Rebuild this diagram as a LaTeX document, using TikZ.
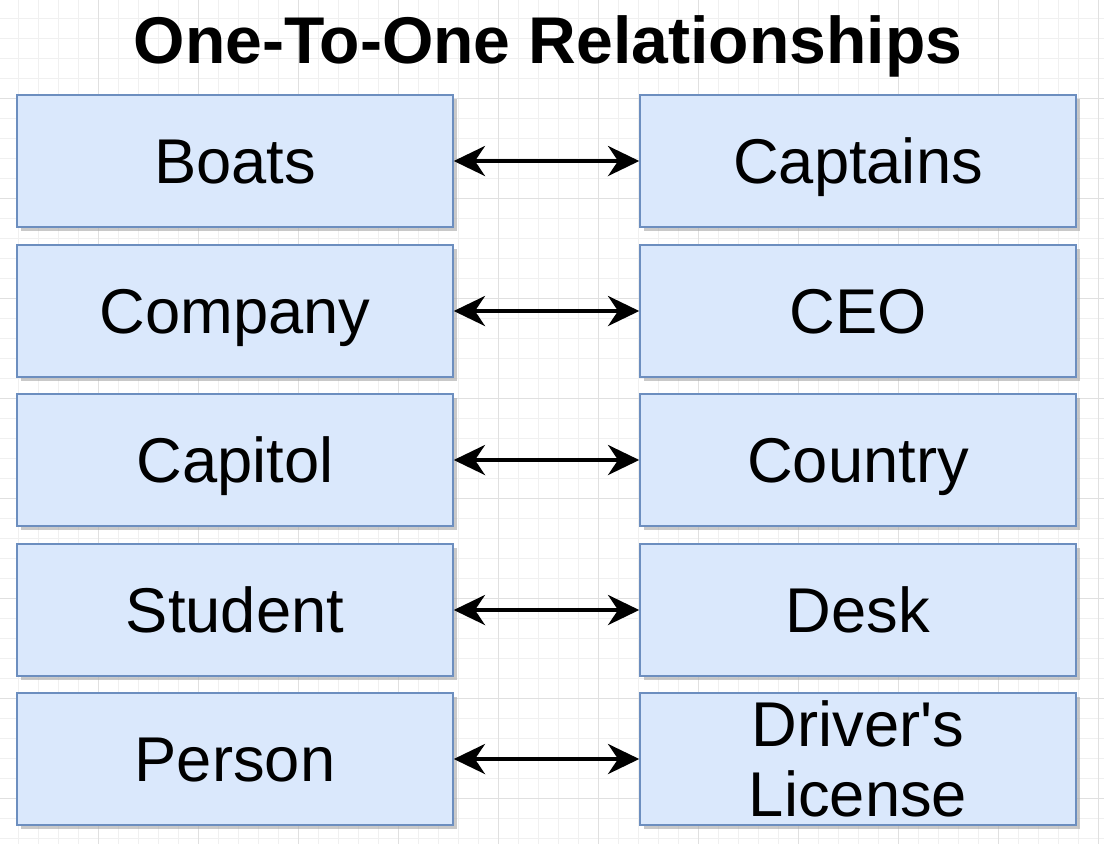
\documentclass[tikz,border=0pt]{standalone}
\usepackage{fontspec}
\setmainfont{Liberation Sans}
\usetikzlibrary{positioning,arrows.meta,shadows}
\definecolor{boxfill}{HTML}{DAE8FC}
\definecolor{boxline}{HTML}{6C8EBF}
\definecolor{gridminor}{HTML}{F0F0F0}
\definecolor{gridmajor}{HTML}{E0E0E0}

\tikzset{
  entity/.style={draw=boxline, line width=1pt, fill=boxfill,
    minimum width=10.9cm, minimum height=3.3cm, inner sep=0pt,
    align=center, font=\fontsize{45}{50}\selectfont,
    text height=1.14cm, text depth=0cm,
    drop shadow={shadow xshift=0.09cm, shadow yshift=-0.09cm, fill=black!35, opacity=0.6}},
  twoline/.style={text height=, text depth=},
  link/.style={line width=2.8pt, {Stealth[length=0.78cm,width=0.75cm,inset=0.25cm]}-{Stealth[length=0.78cm,width=0.75cm,inset=0.25cm]}}
}

\begin{document}
\begin{tikzpicture}[x=0.025cm,y=-0.025cm]
  \useasboundingbox (0,0) rectangle (1104,844);
  \fill[white] (0,0) rectangle (1104,844);

  % background grid
  \foreach \gx in {-2,18,...,1104} {
    \draw[gridminor, line width=0.5pt] (\gx,0) -- (\gx,844);
  }
  \foreach \gy in {-2,18,...,844} {
    \draw[gridminor, line width=0.5pt] (0,\gy) -- (1104,\gy);
  }
  \foreach \gx in {98,198,...,1104} {
    \draw[gridmajor, line width=0.6pt] (\gx,0) -- (\gx,844);
  }
  \foreach \gy in {98,198,...,844} {
    \draw[gridmajor, line width=0.6pt] (0,\gy) -- (1104,\gy);
  }

  % title
  \node[font=\fontsize{47}{52}\selectfont\bfseries] (title) at (548,46) {One-To-One Relationships};

  % pairs of entities
  \foreach \yc/\la/\na/\lb/\nb in {161/Boats/boats/Captains/captains,
      311/Company/company/CEO/ceo,
      460/Capitol/capitol/Country/country,
      610/Student/student/Desk/desk} {
    \node[entity] (\na) at (235,\yc) {\la};
    \node[entity] (\nb) at (858,\yc) {\lb};
    \draw[link] (\na.east) -- (\nb.west);
  }
  \node[entity] (person) at (235,759) {Person};
  \node[entity, twoline] (license) at (858,759) {Driver\textquotesingle s\\License};
  \draw[link] (person.east) -- (license.west);
\end{tikzpicture}
\end{document}
